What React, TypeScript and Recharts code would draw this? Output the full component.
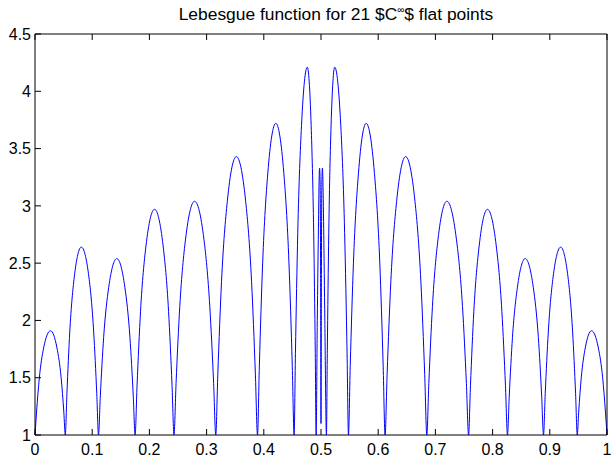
import React from "react";
import { LineChart, Line, XAxis, YAxis } from "recharts";

const xTicks = [0, 0.1, 0.2, 0.3, 0.4, 0.5, 0.6, 0.7, 0.8, 0.9, 1];
const yTicks = [1, 1.5, 2, 2.5, 3, 3.5, 4, 4.5];

// Left arches (0 .. 0.4915)
const leftX = [
  0, 0.0027, 0.0076, 0.0151, 0.027, 0.0384, 0.0457, 0.0504, 0.053,
  0.0558, 0.0608, 0.0687, 0.081, 0.0942, 0.1026, 0.108, 0.111,
  0.1142, 0.12, 0.1289, 0.143, 0.1571, 0.166, 0.1718, 0.175,
  0.1784, 0.1845, 0.194, 0.209, 0.224, 0.2335, 0.2396, 0.243,
  0.2466, 0.2531, 0.2632, 0.279, 0.2953, 0.3056, 0.3123, 0.316,
  0.3196, 0.3261, 0.3362, 0.352, 0.3683, 0.3786, 0.3853, 0.389,
  0.3922, 0.398, 0.4069, 0.421, 0.4351, 0.444, 0.4498, 0.453,
  0.4553, 0.4594, 0.4659, 0.476, 0.4828, 0.4872, 0.49, 0.4915,
];
const leftY = [
  1, 1.2, 1.5, 1.76, 1.91, 1.76, 1.5, 1.2, 1,
  1.36, 1.9, 2.38, 2.64, 2.38, 1.9, 1.36, 1,
  1.34, 1.85, 2.29, 2.54, 2.29, 1.85, 1.34, 1,
  1.43, 2.08, 2.65, 2.97, 2.65, 2.08, 1.43, 1,
  1.45, 2.12, 2.71, 3.04, 2.71, 2.12, 1.45, 1,
  1.53, 2.34, 3.04, 3.43, 3.04, 2.34, 1.53, 1,
  1.6, 2.5, 3.28, 3.72, 3.28, 2.5, 1.6, 1,
  1.71, 2.77, 3.7, 4.21, 3.7, 2.77, 1.71, 1,
];

// Narrow centre lobes (0.4915 .. 0.5095)
const centerX = [0.4935, 0.4955, 0.4968, 0.4975, 0.4985, 0.4993, 0.5, 0.5007, 0.5015, 0.5025, 0.5032, 0.5047, 0.5067, 0.5095];
const centerY = [2.0, 2.8, 3.25, 3.33, 3.2, 2.4, 1.1, 2.4, 3.2, 3.33, 3.25, 2.8, 2.0, 1];

// Right arches (0.5095 .. 1)
const rightX = [
  0.511, 0.5136, 0.5176, 0.524, 0.5346, 0.5413, 0.5456, 0.548,
  0.5511, 0.5567, 0.5654, 0.579, 0.5935, 0.6028, 0.6087, 0.612,
  0.6156, 0.6221, 0.6322, 0.648, 0.6643, 0.6746, 0.6813, 0.685,
  0.6885, 0.6948, 0.7046, 0.72, 0.7367, 0.7474, 0.7542, 0.758,
  0.7613, 0.7672, 0.7765, 0.791, 0.8064, 0.8162, 0.8225, 0.826,
  0.8291, 0.8347, 0.8434, 0.857, 0.8711, 0.88, 0.8858, 0.889,
  0.892, 0.8974, 0.9058, 0.919, 0.9318, 0.9399, 0.9451, 0.948,
  0.9505, 0.955, 0.962, 0.973, 0.9849, 0.9924, 0.9973, 1,
];
const rightY = [
  1.71, 2.77, 3.7, 4.21, 3.7, 2.77, 1.71, 1,
  1.6, 2.5, 3.28, 3.72, 3.28, 2.5, 1.6, 1,
  1.53, 2.34, 3.04, 3.43, 3.04, 2.34, 1.53, 1,
  1.45, 2.12, 2.71, 3.04, 2.71, 2.12, 1.45, 1,
  1.43, 2.08, 2.65, 2.97, 2.65, 2.08, 1.43, 1,
  1.34, 1.85, 2.29, 2.54, 2.29, 1.85, 1.34, 1,
  1.36, 1.9, 2.38, 2.64, 2.38, 1.9, 1.36, 1,
  1.2, 1.5, 1.76, 1.91, 1.76, 1.5, 1.2, 1,
];

const allX = [...leftX, ...centerX, ...rightX];
const allY = [...leftY, ...centerY, ...rightY];
const data = allX.map((x, i) => ({ x, y: allY[i] }));

const FONT = "'Liberation Sans', Arial, Helvetica, sans-serif";
const AXIS = "#000";
const tickStyle = { fontSize: 16, fill: "#000", fontFamily: FONT };
const fmt = (v: number) => String(v);
const blank = () => "";

export default function App() {
  return (
    <div
      style={{
        position: "fixed",
        left: 0,
        top: 0,
        width: 612,
        height: 460,
        background: "#fff",
        overflow: "hidden",
      }}
    >
      <LineChart
        width={612}
        height={460}
        data={data}
        margin={{ top: 33, right: 4, bottom: 0, left: 0 }}
      >
        <XAxis
          xAxisId="b"
          dataKey="x"
          type="number"
          domain={[0, 1]}
          ticks={xTicks}
          tickFormatter={fmt}
          height={25}
          stroke={AXIS}
          tickSize={-6}
          tickMargin={15}
          tick={tickStyle}
          interval={0}
        />
        <XAxis
          xAxisId="t"
          dataKey="x"
          type="number"
          orientation="top"
          domain={[0, 1]}
          ticks={xTicks}
          tickFormatter={blank}
          height={1}
          stroke={AXIS}
          tickSize={-6}
          interval={0}
        />
        <YAxis
          yAxisId="l"
          type="number"
          domain={[1, 4.5]}
          ticks={yTicks}
          tickFormatter={fmt}
          width={35}
          stroke={AXIS}
          tickSize={-6}
          tickMargin={10}
          tick={tickStyle}
          interval={0}
        />
        <YAxis
          yAxisId="r"
          type="number"
          orientation="right"
          domain={[1, 4.5]}
          ticks={yTicks}
          tickFormatter={blank}
          width={1}
          stroke={AXIS}
          tickSize={-6}
          interval={0}
        />
        <Line
          xAxisId="b"
          yAxisId="l"
          dataKey="y"
          type="monotone"
          stroke="#0000ff"
          strokeWidth={1}
          dot={false}
          activeDot={false}
          isAnimationActive={false}
        />
      </LineChart>
      <div
        style={{
          position: "absolute",
          left: 336,
          top: 5.5,
          transform: "translateX(-50%)",
          whiteSpace: "nowrap",
          fontFamily: FONT,
          fontSize: 17.4,
          lineHeight: "16px",
          color: "#000",
        }}
      >
        Lebesgue function for 21 $C
        <span style={{ fontSize: 10, position: "relative", top: -7 }}>∞</span>$ flat points
      </div>
    </div>
  );
}
